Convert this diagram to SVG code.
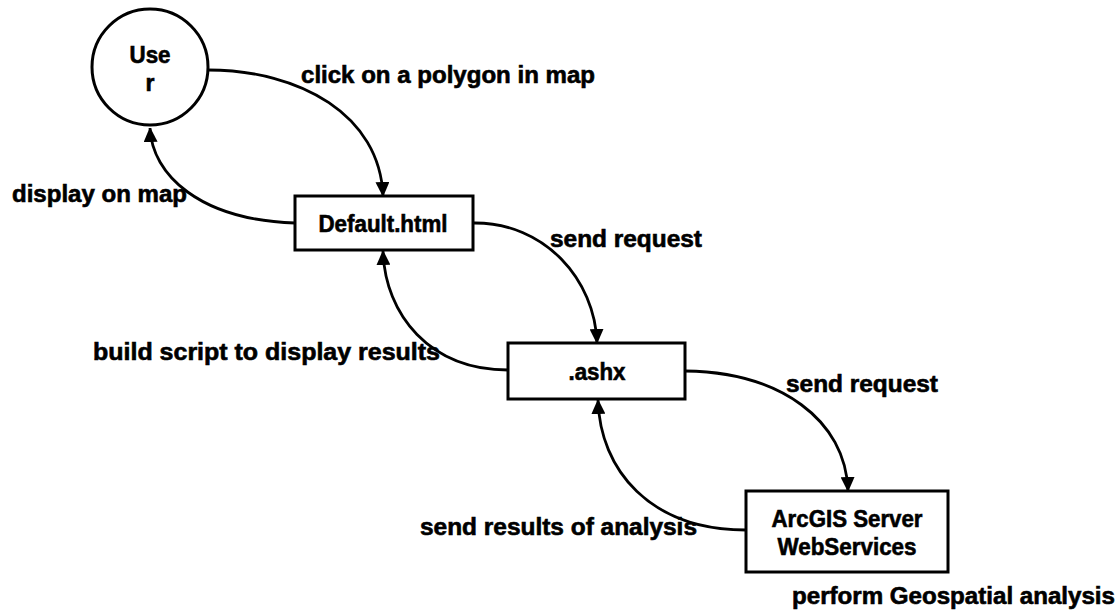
<svg xmlns="http://www.w3.org/2000/svg" width="1119" height="616" viewBox="0 0 1119 616">
  <defs>
    <marker id="arrow" markerUnits="userSpaceOnUse" markerWidth="14" markerHeight="14" refX="14" refY="7" orient="auto">
      <path d="M0,0 L15,7 L0,14 z" fill="#000"/>
    </marker>
    <style>
      .shape { fill: #fff; stroke: #000; stroke-width: 3; }
      .edge { fill: none; stroke: #000; stroke-width: 2.8; marker-end: url(#arrow); }
      text { font-family: "Liberation Sans", Arial, sans-serif; font-weight: bold; font-size: 23px; fill: #000; stroke: #000; stroke-width: 0.6; }
      .c { text-anchor: middle; }
    </style>
  </defs>
  <rect width="1119" height="616" fill="#fff"/>

  <!-- data flows -->
  <g id="connectors">
    <path class="edge" d="M208,70 C300,70 380,115 383,196"/>
    <path class="edge" d="M295,223 C200,220 152,175 150,128"/>
    <path class="edge" d="M473,223 C545,222 595,280 597,343"/>
    <path class="edge" d="M508,370 C430,370 385,315 383,251"/>
    <path class="edge" d="M685,371 C780,372 846,420 848,491"/>
    <path class="edge" d="M746,530 C650,530 600,470 598,400"/>
  </g>

  <!-- flow labels -->
  <g id="labels">
    <text x="301" y="83" textLength="294" lengthAdjust="spacingAndGlyphs">click on a polygon in map</text>
    <text x="12" y="202" textLength="175" lengthAdjust="spacingAndGlyphs">display on map</text>
    <text x="550" y="247" textLength="152" lengthAdjust="spacingAndGlyphs">send request</text>
    <text x="93" y="360" textLength="347" lengthAdjust="spacingAndGlyphs">build script to display results</text>
    <text x="786" y="392" textLength="152" lengthAdjust="spacingAndGlyphs">send request</text>
    <text x="420" y="535" textLength="277" lengthAdjust="spacingAndGlyphs">send results of analysis</text>
    <text x="792" y="604" textLength="323" lengthAdjust="spacingAndGlyphs">perform Geospatial analysis</text>
  </g>

  <g id="user">
    <circle class="shape" cx="150" cy="67" r="58"/>
    <text class="c" x="150" y="63" textLength="41" lengthAdjust="spacingAndGlyphs">Use</text>
    <text class="c" x="150" y="91">r</text>
  </g>

  <g id="default-html">
    <rect class="shape" x="295" y="196" width="178" height="54"/>
    <text class="c" x="383" y="232" textLength="129" lengthAdjust="spacingAndGlyphs">Default.html</text>
  </g>

  <g id="ashx">
    <rect class="shape" x="508" y="343" width="177" height="56"/>
    <text class="c" x="597" y="380" textLength="57" lengthAdjust="spacingAndGlyphs">.ashx</text>
  </g>

  <g id="arcgis">
    <rect class="shape" x="746" y="491" width="202" height="81"/>
    <text class="c" x="847" y="527" textLength="151" lengthAdjust="spacingAndGlyphs">ArcGIS Server</text>
    <text class="c" x="847" y="555" textLength="139" lengthAdjust="spacingAndGlyphs">WebServices</text>
  </g>
</svg>
